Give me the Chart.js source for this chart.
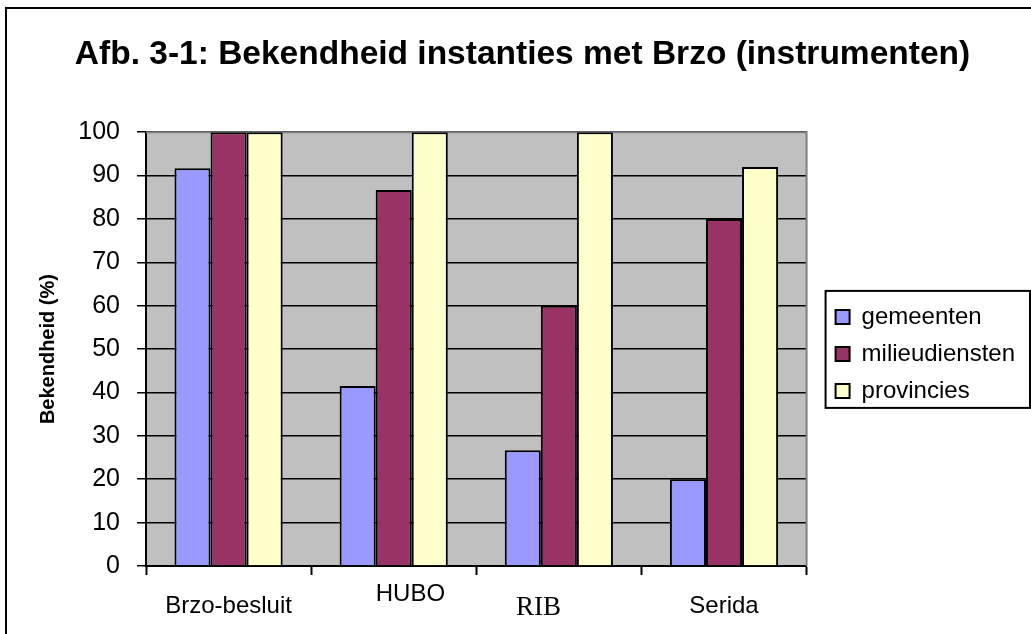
<!DOCTYPE html>
<html>
<head>
<meta charset="utf-8">
<script src="https://cdn.jsdelivr.net/npm/chart.js@4"></script>
<style>
  body { margin: 0; background: #fff; }
  #frame { position: absolute; left: 5px; top: 7px; width: 2000px; height: 2000px; border-left: 2px solid #000; border-top: 2px solid #000; }
  #wrap { position: absolute; left: 0; top: 0; width: 1031px; height: 634px; }
</style>
</head>
<body>
<div id="frame"></div>
<div id="wrap"><canvas id="chart" width="1031" height="634"></canvas></div>
<script>
  // waarden
  const categories = ['Brzo-besluit', 'HUBO', 'RIB', 'Serida'];
  const nb = '\u00a0';
  const tickLabels = [['', 'Brzo-besluit'], [nb.repeat(5) + 'HUBO', ''], ['', 'RIB' + nb.repeat(6)], ['', 'Serida']];
  const gemeenten = [91.7, 41.5, 26.7, 20];
  const milieudiensten = [100, 86.7, 60, 80];
  const provincies = [100, 100, 100, 92];
  const yTicks = [0, 10, 20, 30, 40, 50, 60, 70, 80, 90, 100];

  const sans = '"Liberation Sans", Arial, sans-serif';

  // grijze achtergrond van het plotgebied
  const plotBg = {
    id: 'plotBg',
    beforeDraw(chart) {
      const { ctx, chartArea: a } = chart;
      ctx.save();
      ctx.fillStyle = '#c0c0c0';
      ctx.fillRect(a.left, a.top, a.right - a.left, a.bottom - a.top);
      ctx.restore();
    },
    beforeDatasetsDraw(chart) {
      const { ctx, chartArea: a } = chart;
      ctx.save();
      ctx.strokeStyle = '#808080';
      ctx.lineWidth = 2;
      ctx.beginPath();
      ctx.moveTo(a.left, a.top);
      ctx.lineTo(a.right, a.top);
      ctx.lineTo(a.right, a.bottom);
      ctx.stroke();
      ctx.restore();
    }
  };

  // kader om de legenda
  const legendBox = {
    id: 'legendBox',
    afterDraw(chart) {
      const hb = chart.legend.legendHitBoxes;
      if (!hb || !hb.length) return;
      const { ctx } = chart;
      const last = hb[hb.length - 1];
      const top = hb[0].top - 14;
      const bottom = last.top + last.height + 5;
      const left = hb[0].left - 10;
      const right = chart.width - 1;
      ctx.save();
      ctx.strokeStyle = '#000';
      ctx.lineWidth = 2;
      ctx.strokeRect(left, top, right - left, bottom - top);
      ctx.restore();
    }
  };

  const ctx = document.getElementById('chart');

  new Chart(ctx, {
    type: 'bar',
    data: {
      labels: tickLabels,
      datasets: [
        { label: 'gemeenten', data: gemeenten, backgroundColor: '#9999ff' },
        { label: 'milieudiensten', data: milieudiensten, backgroundColor: '#993366' },
        { label: 'provincies', data: provincies, backgroundColor: '#ffffcc' }
      ]
    },
    options: {
      responsive: false,
      animation: false,
      layout: { padding: { left: 20, right: 6, top: 0, bottom: 0 } },
      datasets: {
        bar: {
          borderColor: '#000',
          borderWidth: 2,
          categoryPercentage: 0.655,
          barPercentage: 1.0
        }
      },
      scales: {
        x: {
          grid: { display: true, drawOnChartArea: false, offset: true, tickLength: 9, tickColor: '#000', tickWidth: 2 },
          border: { display: true, color: '#000', width: 2 },
          ticks: {
            color: '#000',
            padding: 14,
            maxRotation: 0,
            autoSkip: false,
            font: (c) => c.index === 2
              ? { family: '"Liberation Serif", "Times New Roman", serif', size: 27, lineHeight: 0.46 }
              : { family: sans, size: 24, lineHeight: 0.48 }
          },
          afterFit(s) { s.height = 68; }
        },
        y: {
          min: 0,
          max: 100,
          afterBuildTicks(s) { s.ticks = yTicks.map(v => ({ value: v })); },
          grid: { color: '#000', lineWidth: 1.5, tickLength: 9, tickColor: '#000' },
          border: { display: true, color: '#000', width: 2 },
          ticks: { color: '#000', padding: 17, font: { family: sans, size: 25 } },
          title: {
            display: true,
            text: 'Bekendheid (%)',
            color: '#000',
            font: { family: sans, size: 20, weight: 'bold' },
            padding: { top: 16, bottom: 0 }
          },
          afterFit(s) { s.width = 126; }
        },
        // lege ruimte tussen plotgebied en legenda
        y2: {
          type: 'linear',
          position: 'right',
          display: false,
          afterFit(s) { s.width = 16; }
        }
      },
      plugins: {
        title: {
          display: true,
          text: 'Afb. 3-1: Bekendheid instanties met Brzo (instrumenten)',
          color: '#000',
          font: { family: sans, size: 33.5, weight: 'bold' },
          padding: { top: 35, bottom: 57 }
        },
        legend: {
          position: 'right',
          align: 'center',
          fullSize: false,
          title: { display: true, text: ' ', padding: 0, font: { size: 8 } },
          labels: {
            color: '#000',
            boxWidth: 14,
            boxHeight: 14,
            padding: 13,
            font: { family: sans, size: 24 }
          }
        },
        tooltip: { enabled: false }
      }
    },
    plugins: [plotBg, legendBox]
  });
</script>
</body>
</html>
